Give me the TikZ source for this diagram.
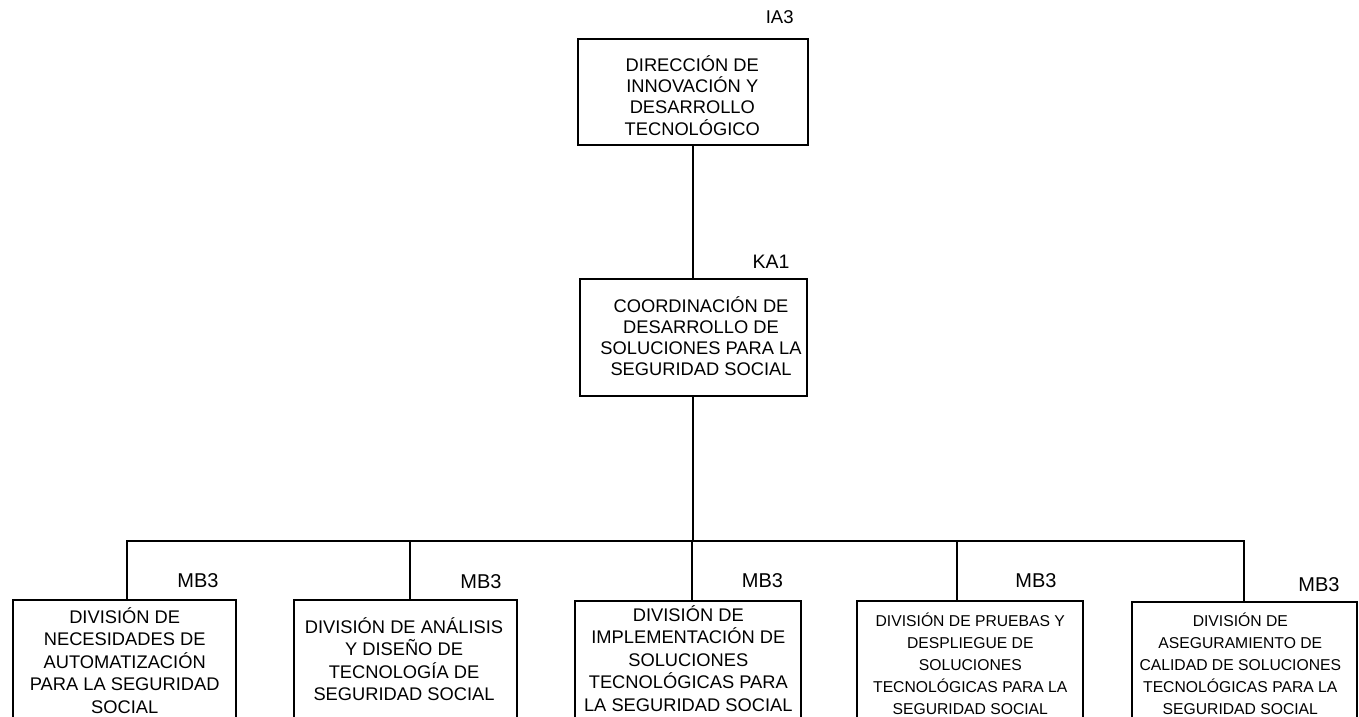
\documentclass[tikz,border=0pt]{standalone}
\usepackage{fontspec}
\setmainfont{Liberation Sans}
\begin{document}
\begin{tikzpicture}[x=1pt,y=-1pt,
  box/.style={draw, line width=2.2pt, rectangle, inner sep=0pt},
  txt/.style={align=center, inner sep=0pt, font=\fontsize{18.3}{22.5}\selectfont},
  txttop/.style={align=center, inner sep=0pt, font=\fontsize{18.3}{21.2}\selectfont},
  txtsmall/.style={align=center, inner sep=0pt, font=\fontsize{15.7}{22}\selectfont},
  lbl/.style={inner sep=0pt, font=\fontsize{20}{24}\selectfont},
  conn/.style={line width=2.2pt}]
\clip (0,0) rectangle (1359,716);
% top box
\node[box, minimum width=230pt, minimum height=106pt] (dir) at (693,92) {};
\node[txttop] (dirT) at (692.3,95.5) {DIRECCIÓN DE\\INNOVACIÓN Y\\DESARROLLO\\TECNOLÓGICO};
\node[lbl, font=\fontsize{18.5}{22}\selectfont] (ia3) at (779.7,16.7) {IA3};
% middle box
\node[box, minimum width=227pt, minimum height=117pt] (coo) at (693.5,337.5) {};
\node[txttop] (cooT) at (701,336) {COORDINACIÓN DE\\DESARROLLO DE\\SOLUCIONES PARA LA\\SEGURIDAD SOCIAL};
\node[lbl, font=\fontsize{19.5}{23}\selectfont] (ka1) at (771,261.7) {KA1};
% bottom boxes
\node[box, minimum width=223pt, minimum height=122pt] (d1) at (124.5,661) {};
\node[box, minimum width=223pt, minimum height=122pt] (d2) at (405.5,661) {};
\node[box, minimum width=226pt, minimum height=122pt] (d3) at (688,662) {};
\node[box, minimum width=226pt, minimum height=122pt] (d4) at (970,662) {};
\node[box, minimum width=225pt, minimum height=122pt] (d5) at (1244.5,663) {};
\node[txt] (d1T) at (124.7,660.5) {DIVISIÓN DE\\NECESIDADES DE\\AUTOMATIZACIÓN\\PARA LA SEGURIDAD\\SOCIAL};
\node[txt] (d2T) at (404,659) {DIVISIÓN DE ANÁLISIS\\Y DISEÑO DE\\TECNOLOGÍA DE\\SEGURIDAD SOCIAL};
\node[txt] (d3T) at (688.3,658.5) {DIVISIÓN DE\\IMPLEMENTACIÓN DE\\SOLUCIONES\\TECNOLÓGICAS PARA\\LA SEGURIDAD SOCIAL};
\node[txtsmall] (d4T) at (970.3,663.5) {DIVISIÓN DE PRUEBAS Y\\DESPLIEGUE DE\\SOLUCIONES\\TECNOLÓGICAS PARA LA\\SEGURIDAD SOCIAL};
\node[txtsmall] (d5T) at (1240.3,663.5) {DIVISIÓN DE\\ASEGURAMIENTO DE\\CALIDAD DE SOLUCIONES\\TECNOLÓGICAS PARA LA\\SEGURIDAD SOCIAL};
\node[lbl] (m1) at (198,580.7) {MB3};
\node[lbl] (m2) at (481,581.7) {MB3};
\node[lbl] (m3) at (762.5,580.7) {MB3};
\node[lbl] (m4) at (1036,580.7) {MB3};
\node[lbl] (m5) at (1319,585) {MB3};
% junctions on the bar
\coordinate (j1) at (127,541);
\coordinate (j2) at (410,541);
\coordinate (j3) at (692,541);
\coordinate (j4) at (957,541);
\coordinate (j5) at (1244,541);
% connectors
\draw[conn] (dir.south) -- (dir.south |- coo.north);
\draw[conn] (coo.south -| dir.south) -- (dir.south |- j3);
\draw[conn] (j1 |- d1.north) -- (j1) -- (j5) -- (j5 |- d5.north);
\draw[conn] (j2) -- (j2 |- d2.north);
\draw[conn] (j3) -- (j3 |- d3.north);
\draw[conn] (j4) -- (j4 |- d4.north);
\end{tikzpicture}
\end{document}
